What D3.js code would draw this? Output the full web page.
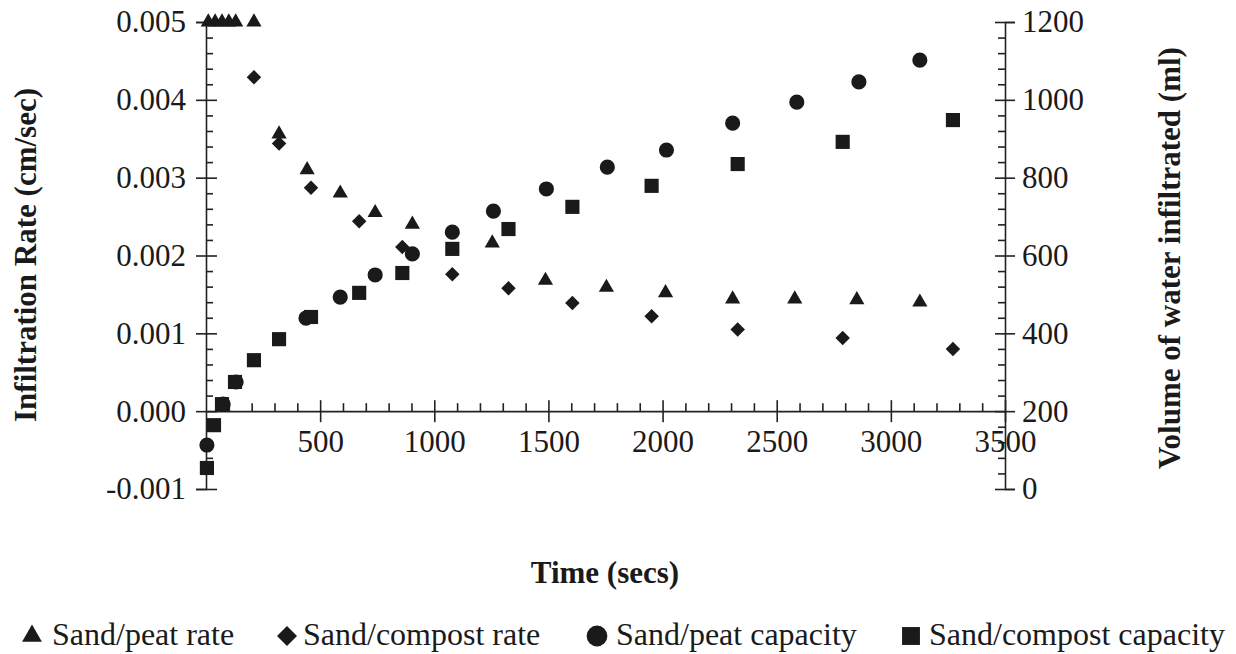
<!DOCTYPE html>
<html>
<head>
<meta charset="utf-8">
<script src="https://cdn.jsdelivr.net/npm/d3@7"></script>
<style>
  body { margin: 0; background: #fff; }
  svg { display: block; font-family: "Liberation Serif", "Times New Roman", serif; }
  .axis path, .axis line { stroke: #222; stroke-width: 1.6; }
  .axis text { font-size: 31px; fill: #1a1a1a; font-family: "Liberation Serif", serif; }
</style>
</head>
<body>
<svg id="chart" width="1236" height="654"></svg>
<script>
// ---- data ----
// Sand/peat infiltration rate (cm/sec), left axis
const peatRateTime = [10, 40, 70, 100, 130, 210, 320, 443, 588, 741, 904, 1254, 1487, 1754, 2013, 2307, 2579, 2851, 3127];
const peatRate = [0.005, 0.005, 0.005, 0.005, 0.005, 0.005, 0.00356, 0.0031, 0.0028, 0.00255, 0.0024, 0.00216, 0.00168, 0.00159, 0.00152, 0.00144, 0.00144, 0.00143, 0.0014];

// Sand/compost infiltration rate (cm/sec), left axis
const compostRateTime = [210, 320, 460, 671, 860, 1079, 1325, 1605, 1952, 2329, 2789, 3272];
const compostRate = [0.00429, 0.00344, 0.00287, 0.00244, 0.00211, 0.00176, 0.00158, 0.00139, 0.00122, 0.00105, 0.00094, 0.0008];

// Sand/peat capacity (ml), right axis
const peatCapTime = [4, 75, 132, 438, 588, 741, 904, 1079, 1259, 1491, 1758, 2017, 2307, 2588, 2860, 3127];
const peatCap = [113, 218, 275, 439, 493, 550, 604, 660, 714, 771, 827, 871, 940, 994, 1046, 1102];

// Sand/compost capacity (ml), right axis
const compostCapTime = [4, 35, 70, 127, 210, 320, 460, 671, 860, 1079, 1325, 1605, 1952, 2329, 2789, 3272];
const compostCap = [54, 164, 218, 275, 331, 385, 442, 504, 555, 617, 668, 725, 779, 835, 892, 948];

const xTicks = [500, 1000, 1500, 2000, 2500, 3000, 3500];
const leftTicks = [-0.001, 0, 0.001, 0.002, 0.003, 0.004, 0.005];
const rightTicks = [0, 200, 400, 600, 800, 1000, 1200];

const legendNames = ['Sand/peat rate', 'Sand/compost rate', 'Sand/peat capacity', 'Sand/compost capacity'];

// ---- layout ----
const svg = d3.select('#chart');
const L = 206, R = 1005, T = 22, B = 489;
const ink = '#1a1a1a';

const x = d3.scaleLinear().domain([0, 3500]).range([L, R]);
const yL = d3.scaleLinear().domain([-0.001, 0.005]).range([B, T]);
const yR = d3.scaleLinear().domain([0, 1200]).range([B, T]);
const x0 = yL(0);

const minorX = d3.range(100, 3501, 100).filter(v => v % 500 !== 0);
const minorL = d3.range(-0.0008, 0.005, 0.0002).filter(v => Math.abs(Math.round(v * 1000) - v * 1000) > 1e-6);
const minorR = d3.range(40, 1200, 40).filter(v => v % 200 !== 0);

const fmtL = d => d3.format('.3f')(d).replace('\u2212', '-');
const fmtInt = d3.format('d');

function noDomain(g) { g.select('.domain').remove(); }

// left axis
svg.append('g').attr('class', 'axis').attr('transform', `translate(${L},0)`)
  .call(d3.axisLeft(yL).tickValues(leftTicks).tickSize(10).tickPadding(10).tickFormat(fmtL));
svg.append('g').attr('class', 'axis').attr('transform', `translate(${L},0)`)
  .call(d3.axisLeft(yL).tickValues(leftTicks).tickSize(-11).tickFormat('')).call(noDomain);
svg.append('g').attr('class', 'axis').attr('transform', `translate(${L},0)`)
  .call(d3.axisLeft(yL).tickValues(minorL).tickSize(-7).tickFormat('')).call(noDomain);

// right axis
svg.append('g').attr('class', 'axis').attr('transform', `translate(${R},0)`)
  .call(d3.axisRight(yR).tickValues(rightTicks).tickSize(10).tickPadding(7).tickFormat(fmtInt));
svg.append('g').attr('class', 'axis').attr('transform', `translate(${R},0)`)
  .call(d3.axisRight(yR).tickValues(rightTicks).tickSize(-10).tickFormat('')).call(noDomain);
svg.append('g').attr('class', 'axis').attr('transform', `translate(${R},0)`)
  .call(d3.axisRight(yR).tickValues(minorR).tickSize(-7).tickFormat('')).call(noDomain);

// x axis sits on the zero line of the left axis
svg.append('g').attr('class', 'axis').attr('transform', `translate(0,${x0})`)
  .call(d3.axisBottom(x).tickValues(xTicks).tickSize(11).tickPadding(8).tickSizeOuter(0).tickFormat(fmtInt));
svg.append('g').attr('class', 'axis').attr('transform', `translate(0,${x0})`)
  .call(d3.axisBottom(x).tickValues(xTicks).tickSize(-11).tickFormat('')).call(noDomain);
svg.append('g').attr('class', 'axis').attr('transform', `translate(0,${x0})`)
  .call(d3.axisBottom(x).tickValues(minorX).tickSize(-8).tickFormat('')).call(noDomain);

// ---- markers ----
const symTypes = [d3.symbolTriangle, d3.symbolSquare, d3.symbolCircle, d3.symbolSquare];
const plotSize = [100, 105, 180, 200];
const legSize = [170, 200, 340, 320];
const rot = [0, 45, 0, 0];

const series = [
  { t: peatRateTime, v: peatRate, y: yL },
  { t: compostRateTime, v: compostRate, y: yL },
  { t: peatCapTime, v: peatCap, y: yR },
  { t: compostCapTime, v: compostCap, y: yR }
];

series.forEach((s, i) => {
  const shape = d3.symbol().type(symTypes[i]).size(plotSize[i])();
  svg.append('g').selectAll('path').data(s.t.map((t, k) => [t, s.v[k]])).enter()
    .append('path')
    .attr('d', shape)
    .attr('fill', ink)
    .attr('transform', d => `translate(${x(d[0])},${s.y(d[1])}) rotate(${rot[i]})`);
});

// ---- titles ----
svg.append('text').attr('x', 605).attr('y', 583).attr('text-anchor', 'middle')
  .attr('font-size', 31).attr('font-weight', 'bold').attr('fill', ink).text('Time (secs)');
svg.append('text').attr('transform', 'translate(36,255) rotate(-90)').attr('text-anchor', 'middle')
  .attr('font-size', 31).attr('font-weight', 'bold').attr('fill', ink).text('Infiltration Rate (cm/sec)');
svg.append('text').attr('transform', 'translate(1180,258) rotate(-90)').attr('text-anchor', 'middle')
  .attr('font-size', 31).attr('font-weight', 'bold').attr('fill', ink).text('Volume of water infiltrated (ml)');

// ---- legend ----
const legX = [32, 287, 597, 911];
const legGap = [20, 16, 19, 18];
const leg = svg.append('g');
legendNames.forEach((name, i) => {
  leg.append('path').attr('d', d3.symbol().type(symTypes[i]).size(legSize[i])()).attr('fill', ink)
    .attr('transform', `translate(${legX[i]},636) rotate(${rot[i]})`);
  leg.append('text').attr('x', legX[i] + legGap[i]).attr('y', 645)
    .attr('font-size', 32).attr('fill', ink).text(name);
});
</script>
</body>
</html>
